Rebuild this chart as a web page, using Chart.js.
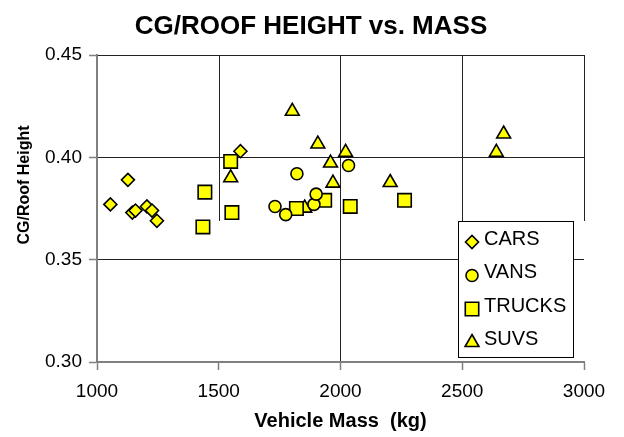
<!DOCTYPE html>
<html>
<head>
<meta charset="utf-8">
<title>CG/Roof Height vs. Mass</title>
<script src="https://cdn.jsdelivr.net/npm/chart.js"></script>
<style>
  body { margin: 0; background: #fff; }
</style>
</head>
<body>
<canvas id="myChart" width="624" height="437"></canvas>
<script>
// values
const carMass = [1055, 1127, 1145, 1158, 1205, 1226, 1246, 1589];
const carRatio = [0.377, 0.389, 0.373, 0.374, 0.376, 0.374, 0.369, 0.403];

const vanMass = [1731, 1775, 1821, 1891, 1900, 2033];
const vanRatio = [0.376, 0.372, 0.392, 0.377, 0.382, 0.396];

const truckMass = [1435, 1443, 1549, 1554, 1819, 1935, 2040, 2263];
const truckRatio = [0.366, 0.383, 0.398, 0.373, 0.375, 0.379, 0.376, 0.379];

const suvMass = [1549, 1802, 1853, 1907, 1959, 1969, 2021, 2204, 2640, 2670];
const suvRatio = [0.390, 0.4225, 0.3752, 0.4065, 0.3972, 0.3874, 0.4024, 0.3877, 0.4024, 0.4114];

const massTicks = [1000, 1500, 2000, 2500, 3000];
const ratioTicks = [0.30, 0.35, 0.40, 0.45];

const FONT = '"Liberation Sans", Arial, sans-serif';
const YELLOW = "#ffff00";
const AXIS_GRAY = "#808080";
const LEGEND_BOX = { left: 458, top: 221, width: 115, height: 136 };

function toPoints(xs, ys) {
  return xs.map((x, i) => ({ x: x, y: ys[i] }));
}

function makeSet(label, xs, ys, style, radius) {
  return {
    label: label,
    data: toPoints(xs, ys),
    pointStyle: style,
    pointRadius: radius,
    pointHoverRadius: radius,
    backgroundColor: YELLOW,
    borderColor: "#000",
    borderWidth: 1.6,
  };
}

// titles and the boxed legend drawn on the canvas
const chartLabels = {
  id: "chartLabels",
  beforeDatasetsDraw(chart) {
    // the 1500 / 2500 / 3000 lines stop at the legend top in the original
    const ctx = chart.ctx;
    const xs = chart.scales.x;
    ctx.save();
    ctx.strokeStyle = "#222";
    ctx.lineWidth = 1;
    [1500, 2500, 3000].forEach((v) => {
      const px = Math.round(xs.getPixelForValue(v)) + 0.5;
      ctx.beginPath();
      ctx.moveTo(px, chart.chartArea.top);
      ctx.lineTo(px, LEGEND_BOX.top);
      ctx.stroke();
    });
    ctx.restore();
  },
  afterDraw(chart) {
    const ctx = chart.ctx;
    ctx.save();
    ctx.fillStyle = "#000";
    ctx.textAlign = "center";
    ctx.textBaseline = "middle";
    ctx.font = "bold 26px " + FONT;
    ctx.fillText("CG/ROOF HEIGHT vs. MASS", 311, 27);

    ctx.save();
    ctx.translate(25, 185);
    ctx.rotate(-Math.PI / 2);
    ctx.font = "bold 16px " + FONT;
    ctx.fillText("CG/Roof Height", 0, 0);
    ctx.restore();

    // legend
    const b = LEGEND_BOX;
    ctx.fillStyle = "#fff";
    ctx.fillRect(b.left, b.top, b.width, b.height);
    ctx.strokeStyle = "#000";
    ctx.lineWidth = 1;
    ctx.strokeRect(b.left + 0.5, b.top + 0.5, b.width, b.height);

    ctx.font = "20px " + FONT;
    ctx.textAlign = "left";
    chart.data.datasets.forEach((ds, i) => {
      const y = b.top + 18 + i * 33.5;
      ctx.fillStyle = ds.backgroundColor;
      ctx.strokeStyle = ds.borderColor;
      ctx.lineWidth = ds.borderWidth;
      Chart.helpers.drawPoint(ctx, {
        pointStyle: ds.pointStyle,
        radius: ds.pointRadius,
        borderWidth: ds.borderWidth,
        rotation: 0,
      }, b.left + 14, y + 3);
      ctx.fillStyle = "#000";
      ctx.fillText(ds.label, b.left + 26, y);
    });
    ctx.restore();
  },
};

new Chart(document.getElementById("myChart"), {
  type: "scatter",
  data: {
    datasets: [
      makeSet("CARS", carMass, carRatio, "rectRot", 6.5),
      makeSet("VANS", vanMass, vanRatio, "circle", 6),
      makeSet("TRUCKS", truckMass, truckRatio, "rect", 9.5),
      makeSet("SUVS", suvMass, suvRatio, "triangle", 8),
    ],
  },
  options: {
    responsive: false,
    animation: false,
    layout: { padding: { top: 55, right: 40, left: 0, bottom: 0 } },
    plugins: {
      legend: { display: false },
      title: { display: false },
      tooltip: { enabled: false },
    },
    scales: {
      x: {
        type: "linear",
        min: massTicks[0],
        max: massTicks[massTicks.length - 1],
        afterBuildTicks: (scale) => {
          scale.ticks = massTicks.map((v) => ({ value: v }));
        },
        afterFit: (scale) => {
          scale.height = 75;
        },
        ticks: {
          color: "#000",
          padding: 10,
          maxRotation: 0,
          font: { family: FONT, size: 19 },
          callback: (v) => String(v),
        },
        grid: {
          color: (c) => ([1500, 2500, 3000].includes(c.tick && c.tick.value) ? "rgba(0,0,0,0)" : "#222"),
          lineWidth: 1,
          tickLength: 8,
          tickColor: AXIS_GRAY,
          tickWidth: 1.5,
        },
        border: { color: AXIS_GRAY, width: 2 },
        title: {
          display: true,
          text: "Vehicle Mass  (kg)",
          color: "#000",
          font: { family: FONT, size: 20, weight: "bold" },
          padding: { top: 0, bottom: 4 },
        },
      },
      y: {
        type: "linear",
        min: ratioTicks[0],
        max: ratioTicks[ratioTicks.length - 1],
        afterBuildTicks: (scale) => {
          scale.ticks = ratioTicks.map((v) => ({ value: v }));
        },
        afterFit: (scale) => {
          scale.width = 97;
        },
        ticks: {
          color: "#000",
          padding: 7,
          font: { family: FONT, size: 19 },
          callback: (v) => Number(v).toFixed(2),
        },
        grid: {
          color: "#222",
          lineWidth: 1,
          tickLength: 8,
          tickColor: AXIS_GRAY,
          tickWidth: 1.5,
        },
        border: { color: AXIS_GRAY, width: 2 },
      },
    },
  },
  plugins: [chartLabels],
});
</script>
</body>
</html>
